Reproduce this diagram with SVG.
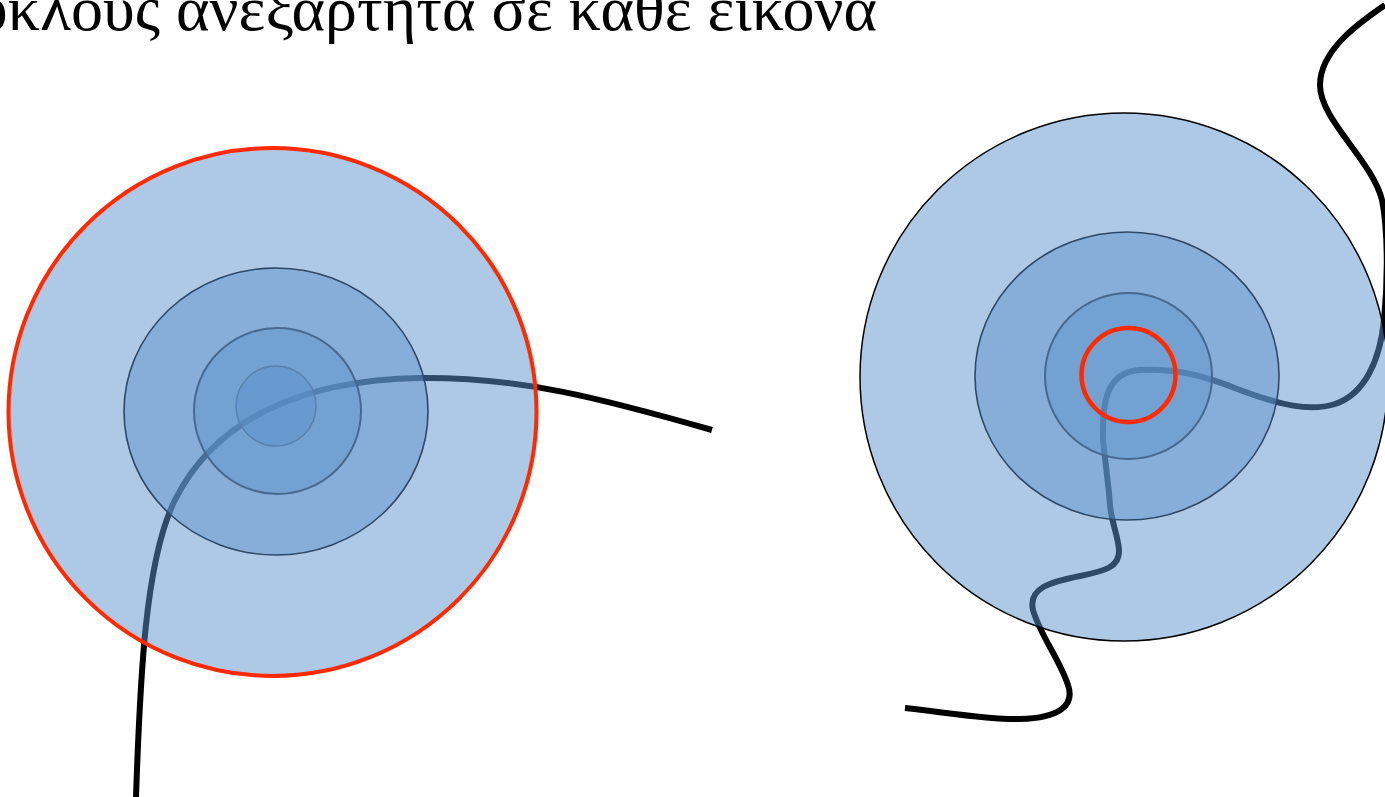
<svg xmlns="http://www.w3.org/2000/svg" width="1385" height="797" viewBox="0 0 1385 797">
<style>
.curve{fill:none;stroke:#000;stroke-width:6;stroke-linecap:butt;stroke-linejoin:round}
.disc{fill:#5E94CC;fill-opacity:0.5}
.r1{stroke:#2E4866;stroke-width:1.6}
.r2{stroke:#48698F;stroke-width:2}
.r3{stroke:#5A82AD;stroke-width:1.6}
.red{fill:none;stroke:#FF2A00}
.title{font-family:"Liberation Serif","Times New Roman",serif;font-size:64px;fill:#000}
</style>
<rect width="1385" height="797" fill="#fff"/>
<text class="title" x="877" y="30" text-anchor="end">κύκλους ανεξάρτητα σε κάθε εικόνα</text>
<g id="connectors">
<path class="curve" d="M136,797 C140,680 145,560 175,500 C215,420 300,380 420,378 C520,377 600,398 712,430"/>
<path class="curve" d="M905,708 C950,713 990,720 1020,719 C1060,718 1075,705 1068,685 C1060,660 1040,635 1033,610 C1028,588 1050,582 1080,576 C1105,571 1120,567 1119,550 C1118,535 1112,525 1110,505 C1108,480 1105,460 1103,440 C1102,405 1105,372 1140,370 C1180,368 1210,378 1240,390 C1280,405 1310,412 1335,404 C1365,394 1380,360 1384,320 C1388,280 1388,230 1382,200 C1372,160 1320,120 1320,85 C1320,50 1360,22 1385,5"/>
</g>
<g id="left">
<circle class="disc" cx="272.5" cy="412" r="264"/>
<ellipse class="disc r1" cx="276" cy="411.5" rx="152" ry="143.5"/>
<ellipse class="disc r2" cx="277.5" cy="411" rx="83.5" ry="83"/>
<circle class="disc r3" cx="276" cy="406" r="40"/>
<circle class="red" cx="272.5" cy="412" r="264" stroke-width="4"/>
</g>
<g id="right">
<circle class="disc" cx="1124" cy="377" r="264" stroke="#000" stroke-width="1.5"/>
<ellipse class="disc r1" cx="1127" cy="376" rx="152" ry="144"/>
<ellipse class="disc r2" cx="1128.5" cy="376" rx="83.5" ry="83"/>
<circle class="red" cx="1128.5" cy="375" r="47" stroke-width="4.5"/>
</g>
</svg>
